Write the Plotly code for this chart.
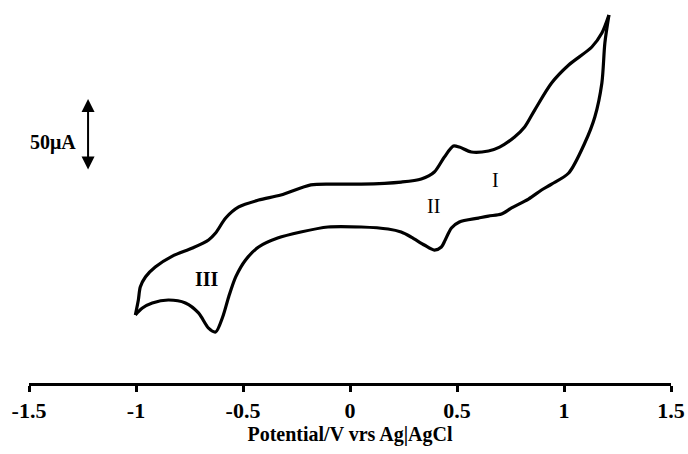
import plotly.graph_objects as go

# Cathodic (lower) branch: from +1.21 V vertex down to -1.0 V
potential_cathodic = [1.210, 1.191, 1.177, 1.144, 1.097, 1.022, 0.942, 0.895, 0.834, 0.755,
                      0.708, 0.647, 0.600, 0.511, 0.474, 0.445, 0.427, 0.394, 0.347, 0.286,
                      0.239, 0.178, 0.052, -0.103, -0.230, -0.338, -0.427, -0.488, -0.534,
                      -0.567, -0.595, -0.628, -0.661, -0.708, -0.769, -0.849, -0.924, -0.970,
                      -1.003]
current_cathodic = [149.3, 129.9, 102.1, 78.5, 60.4, 39.6, 31.9, 27.8, 21.5, 15.3,
                    11.1, 9.7, 8.3, 5.6, 1.4, -6.9, -11.8, -13.9, -10.4, -4.9,
                    -1.4, 0.7, 2.1, 2.1, -1.4, -5.6, -11.8, -20.8, -32.6,
                    -46.5, -60.4, -70.8, -68.1, -57.6, -50.7, -48.6, -50.7, -54.2,
                    -59.0]

# Anodic (upper) branch: from -1.0 V back up to +1.21 V
potential_anodic = [-1.003, -0.989, -0.980, -0.956, -0.910, -0.830, -0.736, -0.661, -0.628,
                    -0.581, -0.520, -0.427, -0.323, -0.183, -0.089, 0.052, 0.239, 0.333,
                    0.394, 0.441, 0.483, 0.511, 0.567, 0.647, 0.699, 0.769, 0.816, 0.863,
                    0.942, 1.022, 1.130, 1.177, 1.210]
current_anodic = [-59.0, -48.6, -39.6, -32.6, -25.7, -18.1, -12.5, -6.9, -2.1,
                  8.3, 16.0, 20.8, 24.3, 31.3, 31.9, 31.9, 33.3, 35.4,
                  40.3, 50.7, 58.3, 57.6, 54.2, 54.9, 57.6, 64.6, 71.5, 83.3,
                  102.1, 114.6, 127.1, 136.8, 149.3]

tick_values = [-1.5, -1, -0.5, 0, 0.5, 1, 1.5]
tick_labels = ["-1.5", "-1", "-0.5", "0", "0.5", "1", "1.5"]

peak_labels = ["I", "II", "<b>III</b>"]
peak_x = [0.678, 0.388, -0.668]
peak_y = [34.7, 16.7, -34.0]

SERIF = "Liberation Serif, Times New Roman, serif"

fig = go.Figure()
for xs, ys in [(potential_cathodic, current_cathodic), (potential_anodic, current_anodic)]:
    fig.add_trace(go.Scatter(x=xs, y=ys, mode="lines",
                             line=dict(color="black", width=3.2, shape="spline", smoothing=0.8),
                             showlegend=False, hoverinfo="skip"))

for lab, px, py in zip(peak_labels, peak_x, peak_y):
    fig.add_annotation(x=px, y=py, text=lab, showarrow=False, xref="x", yref="y",
                       font=dict(family=SERIF, size=20, color="black"))

# 50 µA scale bar
fig.add_annotation(x=-1.224, y=91.0, ax=-1.224, ay=41.0, xref="x", yref="y",
                   axref="x", ayref="y", text="", showarrow=True,
                   arrowside="end+start", arrowhead=2, arrowsize=1.3,
                   arrowwidth=2, arrowcolor="black")
fig.add_annotation(x=-1.39, y=61.1, text="<b>50μA</b>", showarrow=False,
                   xref="x", yref="y", font=dict(family=SERIF, size=20, color="black"))

fig.update_layout(
    width=688, height=454,
    margin=dict(l=29, r=17, t=10, b=71),
    paper_bgcolor="white", plot_bgcolor="white",
    xaxis=dict(range=[-1.5, 1.5], tickvals=tick_values, ticktext=tick_labels,
               automargin=False,
               showline=True, linecolor="black", linewidth=3,
               ticks="outside", ticklen=6, tickwidth=3, tickcolor="black",
               showgrid=False, zeroline=False,
               tickfont=dict(family=SERIF, size=22, color="black", weight="bold"),
               title=dict(text="<b>Potential/V vrs Ag|AgCl</b>",
                          font=dict(family=SERIF, size=20, color="black"),
                          standoff=4)),
    yaxis=dict(range=[-106.25, 152.8], visible=False, automargin=False),
)

fig.write_html("out.html", config={"displayModeBar": False},
               post_script="document.body.style.margin='0';document.body.style.overflow='hidden';")
